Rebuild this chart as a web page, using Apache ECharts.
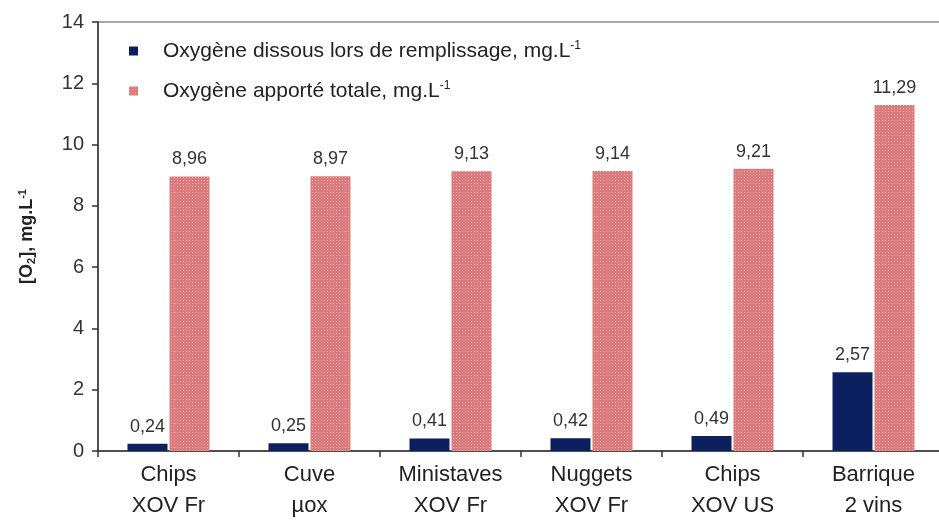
<!DOCTYPE html>
<html>
<head>
<meta charset="utf-8">
<script src="https://cdn.jsdelivr.net/npm/echarts@6/dist/echarts.min.js"></script>
<style>
  html, body { margin: 0; padding: 0; background: #fff; overflow: hidden; }
  #chart { width: 948px; height: 527px; }
</style>
</head>
<body>
<div id="chart"></div>
<script>
const categories = ['Chips\nXOV Fr', 'Cuve\nµox', 'Ministaves\nXOV Fr', 'Nuggets\nXOV Fr', 'Chips\nXOV US', 'Barrique\n2 vins'];
const dissolvedO2 = [0.24, 0.25, 0.41, 0.42, 0.49, 2.57];
const totalO2 = [8.96, 8.97, 9.13, 9.14, 9.21, 11.29];
const seriesNames = ['Oxygène dissous lors de remplissage, mg.L', 'Oxygène apporté totale, mg.L'];

const FONT = 'Arial, "Liberation Sans", sans-serif';
const fmtComma = v => v.toFixed(2).replace('.', ',');

const chart = echarts.init(document.getElementById('chart'));
chart.setOption({
  animation: false,
  backgroundColor: '#fff',
  grid: {
    left: 98, right: 4, top: 22, bottom: 76,
    show: true, borderColor: '#8a8a8a', borderWidth: 1.5, backgroundColor: 'transparent'
  },
  legend: {
    orient: 'vertical', left: 124, top: 35,
    itemWidth: 9, itemHeight: 9, itemGap: 18,
    icon: 'rect',
    data: seriesNames,
    formatter: name => '{t|' + name + '}{s|-1}',
    textStyle: {
      padding: [0, 0, 0, 20],
      rich: {
        t: { fontFamily: FONT, fontSize: 21, color: '#222', lineHeight: 22 },
        s: { fontFamily: FONT, fontSize: 12, color: '#222', lineHeight: 22, padding: [0, 0, 10, 0] }
      }
    }
  },
  xAxis: {
    type: 'category',
    data: categories,
    axisLine: { lineStyle: { color: '#333', width: 1.5 } },
    axisTick: { show: true, length: 6, lineStyle: { color: '#333', width: 1.5 } },
    axisLabel: { fontFamily: FONT, fontSize: 22, color: '#222', lineHeight: 31, margin: 8 }
  },
  yAxis: {
    type: 'value', min: 0, max: 14, interval: 2,
    name: '{b|[O}{bs|2}{b|], mg.L}{bp|-1}',
    nameLocation: 'middle', nameRotate: 90, nameGap: 60,
    nameTextStyle: {
      rich: {
        b: { fontFamily: FONT, fontSize: 18, fontWeight: 'bold', color: '#222', lineHeight: 22 },
        bs: { fontFamily: FONT, fontSize: 11, fontWeight: 'bold', color: '#222', lineHeight: 22, padding: [9, 0, 0, 0] },
        bp: { fontFamily: FONT, fontSize: 11, fontWeight: 'bold', color: '#222', lineHeight: 22, padding: [0, 0, 9, 0] }
      }
    },
    axisLine: { show: true, lineStyle: { color: '#333', width: 1.5 } },
    axisTick: { show: true, length: 6, lineStyle: { color: '#333', width: 1.5 } },
    splitLine: { show: false },
    axisLabel: { fontFamily: FONT, fontSize: 20, color: '#333', margin: 14 }
  },
  series: [
    {
      name: seriesNames[0], type: 'bar', data: dissolvedO2,
      barWidth: 40, barGap: '5%',
      itemStyle: { color: '#0c1f5e' },
      label: { show: true, position: 'top', distance: 8, formatter: p => fmtComma(p.value),
               fontFamily: FONT, fontSize: 18, color: '#333' }
    },
    {
      name: seriesNames[1], type: 'bar', data: totalO2,
      barWidth: 40, barGap: '5%',
      itemStyle: {
        color: '#dc7b7d',
        decal: { symbol: 'rect', symbolSize: 1, dashArrayX: [1, 2], dashArrayY: [1, 2], color: 'rgba(255,255,255,0.35)' }
      },
      label: { show: true, position: 'top', distance: 8, formatter: p => fmtComma(p.value),
               fontFamily: FONT, fontSize: 18, color: '#333' }
    }
  ]
});
</script>
</body>
</html>
